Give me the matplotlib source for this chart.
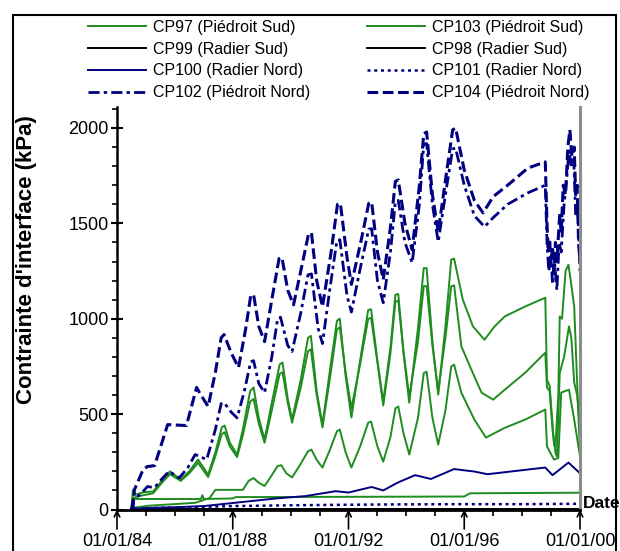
import matplotlib.pyplot as plt
from matplotlib.patches import Rectangle
from matplotlib.ticker import MultipleLocator, FixedLocator

plt.rcParams['font.family'] = ['Liberation Sans', 'DejaVu Sans']

# Contrainte d'interface (kPa) en fonction de la date (annee decimale)

# CP104 (Piedroit Nord) - courbe haute
an_cp104 = [1984.5, 1984.55, 1984.6, 1984.8, 1984.9, 1985.05, 1985.3, 1985.75, 1986.4, 1986.75,
            1986.9, 1987.15, 1987.4, 1987.6, 1987.7, 1987.95, 1988.2, 1988.45, 1988.62, 1988.72,
            1988.9, 1989.1, 1989.35, 1989.6, 1989.7, 1989.9, 1990.1, 1990.35, 1990.62, 1990.72,
            1990.9, 1991.1, 1991.4, 1991.62, 1991.72, 1991.95, 1992.1, 1992.45, 1992.7, 1992.8,
            1993.0, 1993.2, 1993.45, 1993.62, 1993.72, 1993.95, 1994.2, 1994.45, 1994.6, 1994.7,
            1994.9, 1995.1, 1995.4, 1995.6, 1995.7, 1996.0, 1996.35, 1996.65, 1997.0, 1997.5,
            1998.2, 1998.8, 1998.86, 1998.9, 1998.95, 1999.0, 1999.05, 1999.1, 1999.15, 1999.2,
            1999.3, 1999.35, 1999.42, 1999.5, 1999.58, 1999.65, 1999.72, 1999.8, 1999.85, 1999.9,
            1999.95, 2000.0]
cp104 = [0, 0, 103, 173, 209, 225, 230, 445, 440, 640,
         600, 540, 720, 900, 917, 820, 744, 950, 1120, 1127,
         960, 880, 1100, 1315, 1321, 1150, 1073, 1250, 1445, 1450,
         1200, 1063, 1350, 1600, 1605, 1320, 1180, 1420, 1605, 1612,
         1350, 1205, 1480, 1720, 1728, 1500, 1362, 1700, 1970, 1979,
         1650, 1455, 1780, 1990, 2000, 1780, 1620, 1555, 1640, 1700,
         1790, 1822, 1500, 1350, 1420, 1280, 1380, 1250, 1400, 1300,
         1550, 1450, 1700, 1650, 1900, 1990, 1850, 1900, 1650, 1700,
         1400, 1300]

# CP102 (Piedroit Nord)
an_cp102 = [1984.5, 1984.55, 1984.8, 1985.05, 1985.3, 1985.55, 1985.8, 1986.15, 1986.45, 1986.7,
            1987.1, 1987.4, 1987.6, 1987.7, 1987.95, 1988.15, 1988.4, 1988.62, 1988.72, 1988.9,
            1989.1, 1989.35, 1989.55, 1989.65, 1989.9, 1990.05, 1990.35, 1990.6, 1990.72, 1990.95,
            1991.1, 1991.35, 1991.6, 1991.7, 1991.95, 1992.1, 1992.4, 1992.7, 1992.8, 1993.0,
            1993.2, 1993.45, 1993.62, 1993.72, 1993.95, 1994.2, 1994.45, 1994.6, 1994.7, 1994.9,
            1995.1, 1995.4, 1995.6, 1995.7, 1996.0, 1996.35, 1996.7, 1997.0, 1997.5, 1998.2,
            1998.8, 1998.86, 1998.92, 1999.0, 1999.05, 1999.12, 1999.2, 1999.28, 1999.35, 1999.45,
            1999.55, 1999.62, 1999.7, 1999.78, 1999.85, 1999.92, 2000.0]
cp102 = [0, 50, 78, 120, 115, 160, 200, 165, 220, 288,
         262, 420, 555, 560, 510, 480, 620, 775, 780, 660,
         613, 800, 1000, 1008, 860, 828, 1030, 1230, 1235, 950,
         870, 1150, 1410, 1414, 1120, 1035, 1260, 1470, 1472, 1200,
         1084, 1350, 1615, 1620, 1400, 1293, 1600, 1915, 1918, 1600,
         1403, 1700, 1890, 1895, 1700, 1540, 1482, 1530, 1600, 1660,
         1700, 1400, 1250, 1330, 1180, 1300, 1150, 1400, 1350, 1600,
         1750, 1880, 1800, 1850, 1550, 1600, 1250]

# CP97 (Piedroit Sud)
an_cp97 = [1984.5, 1984.55, 1984.65, 1984.9, 1985.25, 1985.55, 1985.83, 1986.2, 1986.5, 1986.8,
           1987.15, 1987.4, 1987.62, 1987.72, 1987.9, 1988.15, 1988.35, 1988.6, 1988.72, 1988.9,
           1989.1, 1989.35, 1989.62, 1989.72, 1989.9, 1990.05, 1990.35, 1990.6, 1990.7, 1990.9,
           1991.1, 1991.35, 1991.6, 1991.7, 1991.9, 1992.1, 1992.4, 1992.68, 1992.78, 1993.0,
           1993.2, 1993.45, 1993.62, 1993.72, 1993.9, 1994.1, 1994.4, 1994.6, 1994.7, 1994.9,
           1995.1, 1995.35, 1995.55, 1995.65, 1995.95, 1996.3, 1996.7, 1997.05, 1997.4, 1998.1,
           1998.8, 1998.86, 1998.95, 1999.05, 1999.1, 1999.15, 1999.25, 1999.3, 1999.38, 1999.5,
           1999.6, 1999.68, 1999.8, 1999.9, 2000.0]
cp97 = [0, 103, 78, 90, 95, 150, 200, 157, 200, 262,
        183, 300, 430, 440, 350, 288, 420, 620, 640, 480,
        366, 560, 760, 770, 580, 471, 680, 900, 910, 620,
        445, 720, 990, 1000, 700, 482, 780, 1045, 1050, 780,
        565, 850, 1125, 1130, 820, 560, 950, 1265, 1265, 880,
        602, 960, 1310, 1315, 1100, 960, 890, 960, 1012, 1064,
        1110, 680, 650, 450, 340, 330, 600, 1012, 1000, 1250,
        1283, 1200, 1064, 666, 296]

# CP103 (Piedroit Sud)
an_cp103 = [1984.5, 1984.55, 1984.75, 1985.25, 1985.55, 1985.83, 1986.2, 1986.5, 1986.8, 1987.15,
            1987.4, 1987.62, 1987.72, 1987.9, 1988.15, 1988.35, 1988.6, 1988.72, 1988.9, 1989.1,
            1989.35, 1989.62, 1989.72, 1989.9, 1990.05, 1990.35, 1990.6, 1990.7, 1990.9, 1991.1,
            1991.35, 1991.6, 1991.7, 1991.9, 1992.1, 1992.4, 1992.68, 1992.78, 1993.0, 1993.2,
            1993.45, 1993.62, 1993.72, 1993.9, 1994.1, 1994.4, 1994.6, 1994.7, 1994.9, 1995.1,
            1995.35, 1995.55, 1995.65, 1995.9, 1996.35, 1996.6, 1997.0, 1997.4, 1998.1, 1998.8,
            1998.86, 1998.95, 1999.05, 1999.15, 1999.2, 1999.3, 1999.45, 1999.62, 1999.7, 1999.8,
            1999.9, 2000.0]
cp103 = [0, 60, 70, 85, 140, 185, 150, 190, 245, 170,
         280, 395, 405, 330, 275, 390, 565, 580, 450, 350,
         520, 710, 720, 560, 455, 640, 830, 840, 600, 430,
         680, 945, 955, 720, 530, 760, 1000, 1005, 770, 545,
         820, 1090, 1095, 830, 590, 880, 1170, 1172, 860, 620,
         900, 1170, 1175, 855, 697, 612, 576, 628, 716, 822,
         640, 620, 420, 300, 278, 716, 800, 960, 900, 666,
         600, 435]

# autres cellules (vert, sans legende)
an_vert_mil = [1984.6, 1985.1, 1986.7, 1987.2, 1987.4, 1988.35, 1988.55, 1988.72, 1988.9, 1989.1,
               1989.35, 1989.55, 1989.68, 1989.85, 1990.05, 1990.35, 1990.6, 1990.72, 1990.9, 1991.1,
               1991.35, 1991.6, 1991.7, 1991.9, 1992.1, 1992.4, 1992.68, 1992.78, 1993.0, 1993.2,
               1993.45, 1993.62, 1993.72, 1993.9, 1994.1, 1994.4, 1994.6, 1994.7, 1994.9, 1995.1,
               1995.35, 1995.55, 1995.65, 1995.9, 1996.35, 1996.75, 1997.4, 1998.1, 1998.8, 1998.86,
               1999.1, 1999.25, 1999.35, 1999.62, 1999.8, 2000.0]
vert_mil = [10, 20, 35, 60, 103, 103, 150, 165, 140, 123,
            180, 228, 232, 190, 168, 240, 305, 314, 260, 220,
            310, 410, 419, 300, 220, 330, 455, 461, 330, 251,
            380, 530, 540, 400, 288, 480, 715, 722, 480, 340,
            520, 750, 759, 612, 471, 377, 428, 471, 524, 330,
            262, 270, 613, 628, 471, 278]

an_vert_bas = [1984.55, 1986.9, 1986.95, 1987.0, 1988.0, 1988.1, 1996.0, 1996.2, 2000.0]
vert_bas = [55, 55, 75, 55, 58, 65, 68, 85, 88]

# CP100 (Radier Nord)
an_cp100 = [1984.5, 1985.0, 1986.0, 1987.0, 1988.0, 1989.5, 1990.5, 1991.55, 1992.0, 1992.8,
            1993.2, 1993.7, 1994.3, 1994.85, 1995.65, 1996.35, 1996.8, 1998.8, 1999.05, 1999.6, 2000.0]
cp100 = [0, 8, 12, 18, 34, 58, 70, 96, 89, 118,
         100, 141, 180, 160, 212, 199, 185, 220, 180, 246, 190]

# CP101 (Radier Nord)
an_cp101 = [1984.6, 1986, 1988, 1990, 1992, 1994, 1996, 1998, 2000]
cp101 = [5, 10, 18, 22, 25, 27, 28, 28, 30]

# CP99 / CP98 (Radier Sud) - quasi nulles
an_radier_sud = [1984.5, 2000.0]
cp99 = [3, 3]
cp98 = [2, 2]

annees_ticks = [1984, 1988, 1992, 1996, 2000]
labels_ticks = ['01/01/84', '01/01/88', '01/01/92', '01/01/96', '01/01/00']

vert = '#1f8c1f'
bleu = '#000080'

fig = plt.figure(figsize=(6.2, 5.51), dpi=100)
ax = fig.add_axes([117 / 620, (551 - 509.5) / 551, 463 / 620, (509.5 - 107) / 551])

l97, = ax.plot(an_cp97, cp97, color=vert, lw=1.4, label='CP97 (Piédroit Sud)')
l103, = ax.plot(an_cp103, cp103, color=vert, lw=1.4, label='CP103 (Piédroit Sud)')
ax.plot(an_vert_mil, vert_mil, color=vert, lw=1.4)
ax.plot(an_vert_bas, vert_bas, color=vert, lw=1.4)
l99, = ax.plot(an_radier_sud, cp99, color='black', lw=1.4, label='CP99 (Radier Sud)')
l98, = ax.plot(an_radier_sud, cp98, color='black', lw=1.4, label='CP98 (Radier Sud)')
l100, = ax.plot(an_cp100, cp100, color=bleu, lw=1.4, label='CP100 (Radier Nord)')
l101, = ax.plot(an_cp101, cp101, color=bleu, lw=1.8, dashes=(1.2, 1.5), label='CP101 (Radier Nord)')
l102, = ax.plot(an_cp102, cp102, color=bleu, lw=2.0, dashes=(4, 1.5, 1.2, 1.5), label='CP102 (Piédroit Nord)')
l104, = ax.plot(an_cp104, cp104, color=bleu, lw=2.2, dashes=(3.5, 1.5), label='CP104 (Piédroit Nord)')

ax.set_xlim(1984, 2000)
ax.set_ylim(0, 2110)

ax.spines['top'].set_visible(False)
ax.spines['left'].set_linewidth(1.8)
ax.spines['bottom'].set_linewidth(2.0)
ax.spines['right'].set_color('#8c8c8c')
ax.spines['right'].set_linewidth(2.2)

ax.yaxis.set_major_locator(MultipleLocator(500))
ax.yaxis.set_minor_locator(MultipleLocator(100))
ax.tick_params(axis='y', which='major', direction='inout', length=8, width=1.5, labelsize=13, pad=2)
ax.tick_params(axis='y', which='minor', direction='out', length=3.5, width=1.2)
ax.tick_params(axis='y', which='both', right=False)

ax.xaxis.set_major_locator(FixedLocator(annees_ticks))
ax.set_xticklabels(labels_ticks)
ax.xaxis.set_minor_locator(MultipleLocator(1))
ax.tick_params(axis='x', which='major', length=0, labelsize=13, pad=17)
ax.tick_params(axis='x', which='minor', direction='out', length=4, width=1.2)

for a in annees_ticks:
    ax.annotate('', xy=(a, 0), xycoords=('data', 'axes fraction'),
                xytext=(0, -14), textcoords='offset points',
                arrowprops=dict(arrowstyle='->', lw=1.2, color='black', shrinkA=0, shrinkB=0),
                annotation_clip=False)

ax.set_ylabel("Contrainte d'interface (kPa)", fontsize=16, fontweight='bold')
ax.yaxis.set_label_coords(-0.172, 0.62)
ax.text(1.006, 0.016, 'Date', transform=ax.transAxes, fontsize=12.5, fontweight='bold',
        ha='left', va='center')

fig.legend(handles=[l97, l99, l100, l102, l103, l98, l101, l104], ncol=2,
           loc='upper left', bbox_to_anchor=(88 / 620, 1 - 20 / 551), frameon=False,
           fontsize=11.5, handlelength=3.6, handletextpad=0.45, columnspacing=3.6,
           labelspacing=0.42, borderpad=0, borderaxespad=0)

fig.patches.append(Rectangle((13 / 620, -0.02), 603 / 620, 1.02 - 15 / 551,
                             transform=fig.transFigure, fill=False, lw=1.5, color='black'))

fig.savefig('out.png', dpi=100)
